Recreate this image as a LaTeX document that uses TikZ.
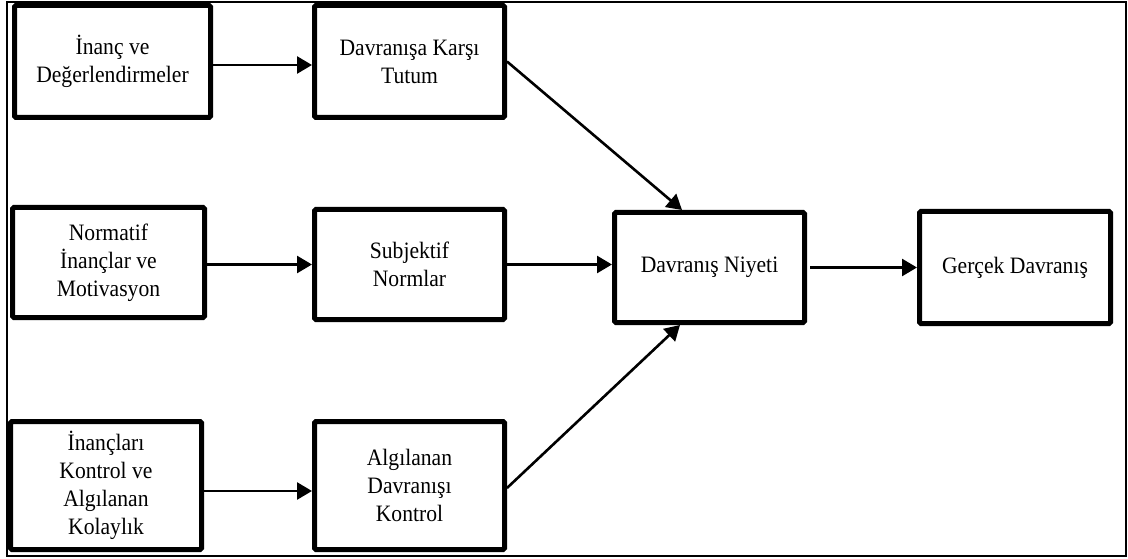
\documentclass[tikz,border=0pt]{standalone}
\usepackage{fontspec}
\setmainfont{Liberation Serif}[FakeStretch=0.92]
\usetikzlibrary{arrows.meta}
\begin{document}
\begin{tikzpicture}[x=1pt,y=-1pt,
  stage/.style={draw=black,line width=5pt,rounded corners=1.5pt,fill=white,
    inner sep=0pt,align=center,
    font=\fontsize{23.5pt}{28pt}\selectfont},
  link/.style={line width=2.6pt,-{Triangle[length=15pt,width=17pt]}}]
  \useasboundingbox (0,0) rectangle (1128,559);
  % outer frame
  \draw[line width=2pt] (7,2) rectangle (1126,556);
  % stages
  \node[stage,minimum width=196pt,minimum height=112pt] (A) at (112.5,61.5) {İnanç ve\\Değerlendirmeler};
  \node[stage,minimum width=190pt,minimum height=112pt] (B) at (409.5,61.5) {Davranışa Karşı\\Tutum};
  \node[stage,minimum width=192pt,minimum height=110pt] (C) at (108.5,262.5) {Normatif\\İnançlar ve\\Motivasyon};
  \node[stage,minimum width=190pt,minimum height=110pt] (D) at (409.5,264.5) {Subjektif\\Normlar};
  \node[stage,minimum width=191pt,minimum height=128pt] (E) at (106,485.5) {İnançları\\Kontrol ve\\Algılanan\\Kolaylık};
  \node[stage,minimum width=190pt,minimum height=128pt] (F) at (409.5,485.5) {Algılanan\\Davranışı\\Kontrol};
  \node[stage,minimum width=190pt,minimum height=110pt] (G) at (709.5,267.5) {Davranış Niyeti};
  \node[stage,minimum width=191pt,minimum height=112pt] (H) at (1015,267.5) {Gerçek Davranış};
  % connectors
  \draw[link] ([yshift=-3.5pt]A.east) -- ([yshift=-3.5pt]A.east -| B.west);
  \draw[link] (C.east |- D.west) -- (D.west);
  \draw[link] ([yshift=-5.5pt]E.east) -- ([yshift=-5.5pt]E.east -| F.west);
  \draw[link] (D.east) -- (D.east -| G.west);
  \draw[link,shorten <=3pt] (G.east) -- (G.east -| H.west);
  \draw[link] (B.east) -- ([xshift=-27.5pt]G.north);
  \draw[link] ([yshift=-2.5pt]F.east) -- ([xshift=-29.5pt]G.south);
\end{tikzpicture}
\end{document}
